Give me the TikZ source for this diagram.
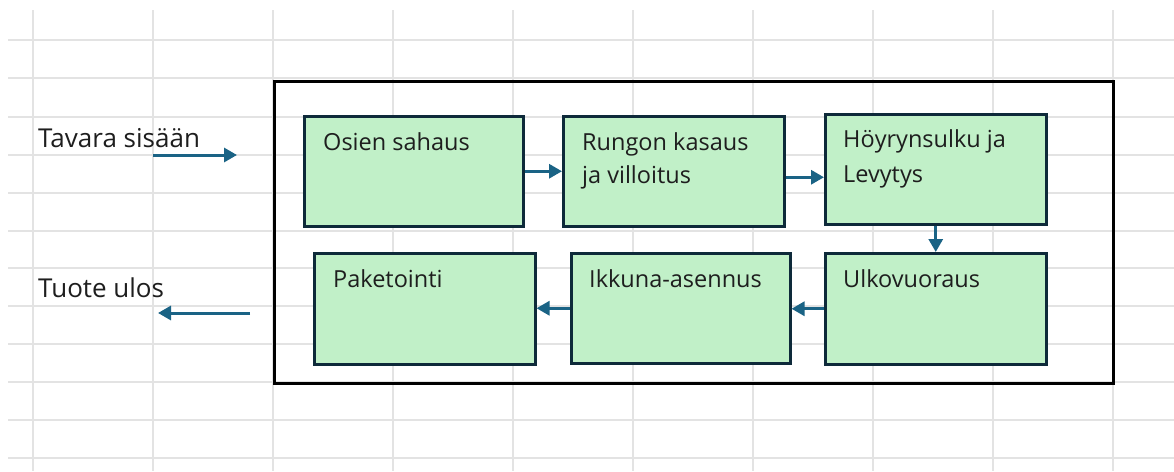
\documentclass[tikz,border=0pt]{standalone}
\usepackage{fontspec}
\setmainfont{Open Sans}
\usetikzlibrary{arrows.meta}
\definecolor{gridgray}{HTML}{E3E3E3}
\definecolor{boxfill}{HTML}{C1F0C8}
\definecolor{boxline}{HTML}{0E2A3A}
\definecolor{flow}{HTML}{1A6385}
\definecolor{ink}{HTML}{1E1E1E}
\begin{document}
\begin{tikzpicture}[x=1pt,y=-1pt,
  gridline/.style={draw=gridgray,line width=1.5pt},
  frame/.style={draw=black,line width=3pt,inner sep=0pt},
  stepbox/.style={draw=boxline,fill=boxfill,line width=2.5pt,inner sep=0pt,
    minimum width=219pt,minimum height=110pt,anchor=north west},
  boxtext/.style={text=ink,font=\fontsize{23.5}{33}\selectfont,inner sep=0pt,
    align=left,anchor=base west},
  sidetext/.style={text=ink,font=\fontsize{26}{33}\selectfont,inner sep=0pt,
    anchor=base west},
  flowarrow/.style={draw=flow,line width=3pt,
    -{Triangle[length=13pt,width=14pt]}},
]
\useasboundingbox (0,0) rectangle (1174,471);
\fill[white] (0,0) rectangle (1174,471);

% spreadsheet grid
\foreach \x in {33,153,273,393,513,633,753,873,993,1113}
  \draw[gridline] (\x,10) -- (\x,471);
\foreach \y in {40,78,117,155,193,231,268,306,344,382,420,458}
  \draw[gridline] (8,\y) -- (1174,\y);

% outer frame
\node[frame,minimum width=839pt,minimum height=302pt,anchor=north west] (frame) at (273,80) {};

% process steps
\node[stepbox] (b1) at (303,115) {};
\node[stepbox,minimum width=221pt] (b2) at (562,115) {};
\node[stepbox,minimum width=221pt] (b3) at (824,113) {};
\node[stepbox,minimum width=221pt,minimum height=111pt] (b4) at (824,252) {};
\node[stepbox,minimum width=219pt] (b5) at (570,252) {};
\node[stepbox,minimum width=221pt,minimum height=111pt] (b6) at (313,252) {};

\node[boxtext] (t1) at ([shift={(20,35)}]b1.north west) {Osien sahaus};
\node[boxtext] (t2) at ([shift={(20,35)}]b2.north west) {Rungon kasaus};
\node[boxtext] (t2b) at ([shift={(20,68)}]b2.north west) {ja villoitus};
\node[boxtext] (t3) at ([shift={(19,34)}]b3.north west) {Höyrynsulku ja};
\node[boxtext] (t3b) at ([shift={(19,69)}]b3.north west) {Levytys};
\node[boxtext] (t4) at ([shift={(19,35)}]b4.north west) {Ulkovuoraus};
\node[boxtext] (t5) at ([shift={(19,35)}]b5.north west) {Ikkuna-asennus};
\node[boxtext] (t6) at ([shift={(20,35)}]b6.north west) {Paketointi};

% connectors between steps
\draw[flowarrow] (b1.east) -- (b1.east -| b2.west);
\draw[flowarrow] ([yshift=-6pt]b2.east) -- ([yshift=-6pt]b2.east -| b3.west);
\draw[flowarrow] (b3.south) -- (b3.south |- b4.north);
\draw[flowarrow] (b4.west) -- (b4.west -| b5.east);
\draw[flowarrow] (b5.west) -- (b5.west -| b6.east);

% input and output
\node[sidetext] (inlabel) at (38,147) {Tavara sisään};
\node[sidetext] (outlabel) at (38,297) {Tuote ulos};
\coordinate (inA) at (153,155);
\coordinate (inB) at (237,155);
\coordinate (outA) at (250,313);
\coordinate (outB) at (158,313);
\draw[flowarrow] (inA) -- (inB);
\draw[flowarrow] (outA) -- (outB);
\end{tikzpicture}
\end{document}
